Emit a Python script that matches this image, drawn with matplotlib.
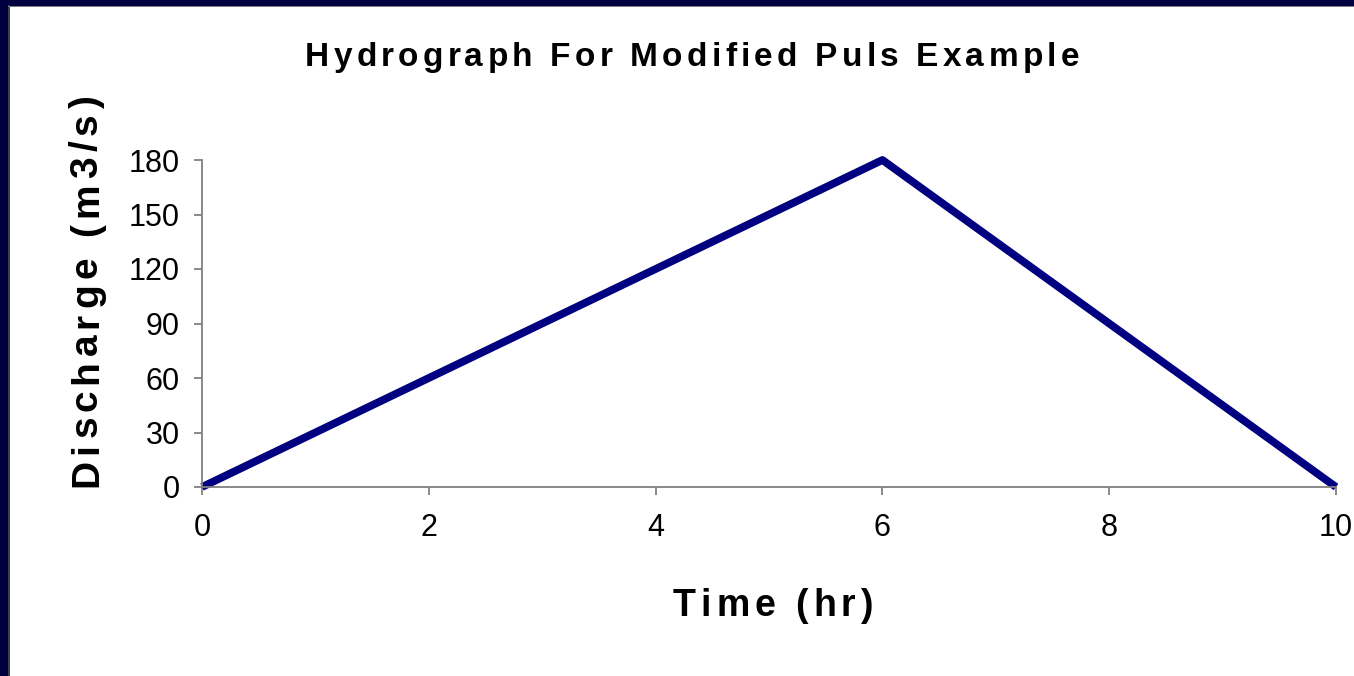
import matplotlib
matplotlib.use("Agg")
import matplotlib.pyplot as plt
from matplotlib.patches import Rectangle
from matplotlib.font_manager import FontProperties

# hydrograph points
time_hr = [0, 6, 10]
discharge = [0, 180, 0]
x_ticks = [0, 2, 4, 6, 8, 10]
y_ticks = [0, 30, 60, 90, 120, 150, 180]

title = 'Hydrograph For Modified Puls Example'
xlabel = 'Time (hr)'
ylabel = 'Discharge (m3/s)'

plt.rcParams['font.family'] = ['Liberation Sans', 'DejaVu Sans']

W, H = 1354, 676
fig = plt.figure(figsize=(W / 100, H / 100), dpi=100)
fig.patch.set_facecolor('white')
renderer = fig.canvas.get_renderer()


# text with wide letter spacing, the way the old slide renders it
# cx, cy are pixel positions from the top-left corner (cy = baseline)
def spaced_text(s, cx, cy, size, total_len, vertical=False):
    prop = FontProperties(family='Liberation Sans', weight='bold', size=size)
    wx = renderer.get_text_width_height_descent('x', prop, ismath=False)[0]
    adv = []
    for ch in s:
        w = renderer.get_text_width_height_descent(ch + 'x', prop, ismath=False)[0]
        adv.append(w - wx)
    gap = (total_len - sum(adv)) / (len(s) - 1)
    pos = -total_len / 2
    for ch, a in zip(s, adv):
        if vertical:
            fig.text(cx / W, 1 - (cy - pos) / H, ch, fontproperties=prop,
                     rotation=90, rotation_mode='anchor', ha='left', va='baseline')
        else:
            fig.text((cx + pos) / W, 1 - cy / H, ch, fontproperties=prop,
                     ha='left', va='baseline')
        pos += a + gap


# dark slide frame on left and top
fig.patches.append(Rectangle((0, 0), 9 / W, 1, transform=fig.transFigure,
                             facecolor='#000040', edgecolor='none'))
fig.patches.append(Rectangle((0, 1 - 6 / H), 1, 6 / H, transform=fig.transFigure,
                             facecolor='#000040', edgecolor='none'))
fig.patches.append(Rectangle((8 / W, 0), 1.5 / W, 1 - 5 / H, transform=fig.transFigure,
                             facecolor='#404040', edgecolor='none'))
fig.patches.append(Rectangle((8 / W, 1 - 7 / H), 1, 1.5 / H, transform=fig.transFigure,
                             facecolor='#808080', edgecolor='none'))

ax = fig.add_axes([202 / W, 1 - 487 / H, (1336 - 202) / W, (487 - 160) / H])
ax.plot(time_hr, discharge, color='#000080', lw=5.6, solid_capstyle='butt', clip_on=False)

ax.set_xlim(0, 10)
ax.set_ylim(0, 180)
ax.set_xticks(x_ticks)
ax.set_yticks(y_ticks)
ax.tick_params(axis='both', labelsize=22, colors='#808080', labelcolor='black',
               length=6, width=1.3, direction='out')
ax.tick_params(axis='x', pad=13)
ax.tick_params(axis='y', pad=10)
for s in ['top', 'right']:
    ax.spines[s].set_visible(False)
for s in ['left', 'bottom']:
    ax.spines[s].set_color('#808080')
    ax.spines[s].set_linewidth(1.3)

spaced_text(title, 692, 66, 24, 774)
spaced_text(xlabel, 773, 616, 27, 200)
spaced_text(ylabel, 97, 291, 28, 392, vertical=True)

fig.savefig('out.png', dpi=100)
